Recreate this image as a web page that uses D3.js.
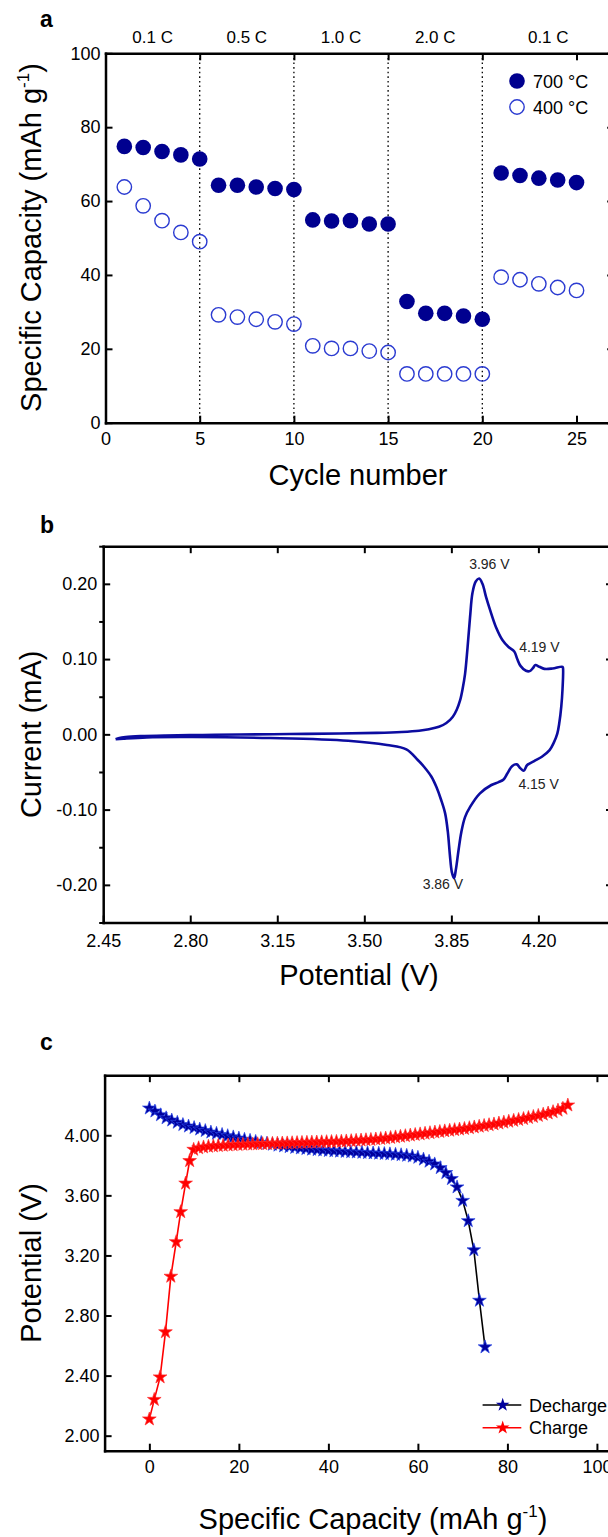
<!DOCTYPE html>
<html>
<head>
<meta charset="utf-8">
<script src="https://cdn.jsdelivr.net/npm/d3@7"></script>
<style>
body { margin: 0; background: #fff; }
text { font-family: "Liberation Sans", Arial, Helvetica, sans-serif; fill: #000; }
</style>
</head>
<body>
<div id="canvas"></div>
<script>
var w = 608;
var h = 1537;

// ---- a: rate capability ----
var cycles = [1,2,3,4,5,6,7,8,9,10,11,12,13,14,15,16,17,18,19,20,21,22,23,24,25];
var cap700 = [74.8,74.5,73.4,72.5,71.4, 64.3,64.3,63.8,63.4,63.1, 54.9,54.6,54.7,53.8,53.8, 32.8,29.6,29.6,28.9,28.0, 67.6,66.9,66.2,65.7,65.0];
var cap400 = [63.8,58.7,54.7,51.5,49.0, 29.2,28.6,28.0,27.3,26.7, 20.8,20.1,20.1,19.4,19.0, 13.2,13.2,13.2,13.2,13.2, 39.4,38.7,37.6,36.6,35.8];
var rates = ["0.1 C","0.5 C","1.0 C","2.0 C","0.1 C"];
var rateEdges = [0,5,10,15,20,27];
var cycleTicks = [0,5,10,15,20,25];
var capTicks = [0,20,40,60,80,100];

// ---- b: cyclic voltammogram [V, mA] ----
var cvAnodic = [
  [2.500,-0.0066],[2.515,-0.0048],[2.540,-0.0036],[2.600,-0.0024],[2.700,-0.0015],
  [2.850,-0.0008],[3.000,-0.0002],[3.200,0.0004],[3.400,0.0011],[3.550,0.0020],
  [3.650,0.0032],[3.720,0.0048],[3.760,0.0068],[3.800,0.0100],[3.830,0.0150],
  [3.856,0.0234],[3.872,0.0330],[3.885,0.0450],[3.895,0.0600],[3.905,0.0800],
  [3.915,0.1150],[3.925,0.1550],[3.935,0.1880],[3.948,0.2030],[3.962,0.2070],
  [3.975,0.2000],[3.990,0.1820],[4.005,0.1660],[4.030,0.1420],[4.056,0.1250],
  [4.080,0.1160],[4.103,0.1100],[4.115,0.1000],[4.128,0.0910],[4.150,0.0845],
  [4.165,0.0840],[4.178,0.0880],[4.188,0.0920],[4.204,0.0898],[4.224,0.0870],
  [4.257,0.0875],[4.297,0.0898]
];
var cvCathodic = [
  [4.299,0.0880],[4.297,0.0600],[4.292,0.0370],[4.284,0.0150],[4.276,0.0010],
  [4.262,-0.0110],[4.245,-0.0209],[4.214,-0.0297],[4.183,-0.0355],[4.155,-0.0408],
  [4.141,-0.0483],[4.128,-0.0452],[4.113,-0.0399],[4.095,-0.0420],[4.075,-0.0520],
  [4.060,-0.0600],[4.040,-0.0635],[4.011,-0.0673],[3.965,-0.0784],[3.926,-0.0961],
  [3.905,-0.1100],[3.890,-0.1300],[3.879,-0.1537],[3.868,-0.1800],[3.861,-0.1910],
  [3.852,-0.1830],[3.844,-0.1600],[3.836,-0.1300],[3.825,-0.1050],[3.809,-0.0872],
  [3.790,-0.0700],[3.770,-0.0563],[3.740,-0.0430],[3.715,-0.0341],[3.669,-0.0200],
  [3.591,-0.0142],[3.435,-0.0085],[3.123,-0.0049],[2.811,-0.0036],[2.625,-0.0040],
  [2.531,-0.0058],[2.500,-0.0066]
];
var cvPeaks = [
  {label:"3.96 V", v:4.003, i:0.220},
  {label:"4.19 V", v:4.204, i:0.110},
  {label:"4.15 V", v:4.201, i:-0.072},
  {label:"3.86 V", v:3.816, i:-0.206}
];
var potTicks = [2.45,2.80,3.15,3.50,3.85,4.20];
var curTicks = [-0.20,-0.10,0.00,0.10,0.20];
var curMinor = [-0.25,-0.15,-0.05,0.05,0.15,0.25];

// ---- c: charge / discharge profiles [mAh/g, V] ----
var decharge = [
  [0,4.18],[1.25,4.16],[2.5,4.135],[3.75,4.115],[5,4.10],[6.25,4.085],[7.5,4.07],[8.75,4.06],
  [10,4.05],[11.25,4.04],[12.5,4.03],[13.75,4.02],[15,4.012],[16.25,4.004],[17.5,3.996],
  [18.75,3.988],[20,3.98],[21.25,3.972],[22.5,3.965],[23.75,3.958],[25,3.951],[26.25,3.945],
  [27.5,3.939],[28.75,3.933],[30,3.928],[31.25,3.923],[32.5,3.918],[33.75,3.914],[35,3.910],
  [36.25,3.906],[37.5,3.903],[38.75,3.900],[40,3.897],[41.25,3.895],[42.5,3.893],[43.75,3.891],
  [45,3.889],[46.25,3.887],[47.5,3.885],[48.75,3.883],[50,3.881],[51.25,3.879],[52.5,3.877],
  [53.75,3.875],[55,3.872],[56.25,3.869],[57.5,3.865],[58.75,3.86],[60,3.852],[61.25,3.84],
  [62.5,3.826],[63.75,3.808],[65,3.783],[66.25,3.75],[67.5,3.71],[68.75,3.655],[70,3.565],
  [71.25,3.43],[72.5,3.236],[73.75,2.90],[75,2.59]
];
var charge = [
  [0,2.11],[1.1,2.24],[2.4,2.39],[3.6,2.69],[4.8,3.06],[6.0,3.29],[7.0,3.49],[8.1,3.68],
  [9.0,3.83],[9.9,3.905],[11.0,3.915],[12.1,3.921],[13.2,3.925],[14.3,3.928],[15.4,3.930],
  [16.5,3.932],[17.6,3.934],[18.7,3.936],[19.8,3.937],[20.9,3.939],[22.0,3.940],[23.1,3.941],
  [24.2,3.942],[25.3,3.943],[26.4,3.944],[27.5,3.945],[28.6,3.946],[29.7,3.947],[30.8,3.948],
  [31.9,3.949],[33.0,3.950],[34.1,3.951],[35.2,3.952],[36.3,3.953],[37.4,3.954],[38.5,3.955],
  [39.6,3.956],[40.7,3.957],[41.8,3.958],[42.9,3.959],[44.0,3.961],[45.1,3.963],[46.2,3.965],
  [47.3,3.967],[48.4,3.969],[49.5,3.971],[50.6,3.974],[51.7,3.977],[52.8,3.980],[53.9,3.984],
  [55.0,3.988],[56.1,3.992],[57.2,3.996],[58.3,4.000],[59.4,4.004],[60.5,4.008],[61.6,4.012],
  [62.7,4.016],[63.8,4.020],[64.9,4.024],[66.0,4.028],[67.1,4.032],[68.2,4.036],[69.3,4.040],
  [70.4,4.044],[71.5,4.049],[72.6,4.054],[73.7,4.059],[74.8,4.064],[75.9,4.069],[77.0,4.074],
  [78.1,4.080],[79.2,4.086],[80.3,4.092],[81.4,4.098],[82.5,4.104],[83.6,4.110],[84.7,4.117],
  [85.8,4.124],[86.9,4.131],[88.0,4.139],[89.1,4.147],[90.2,4.156],[91.3,4.166],[92.4,4.178],
  [93.5,4.200]
];
var specTicks = [0,20,40,60,80,100];
var potCTicks = [2.00,2.40,2.80,3.20,3.60,4.00];
var legendC = ["Decharge","Charge"];

var navy = "#00008f";
var openBlue = "#2b3bd1";
var cvBlue = "#0c0ca0";

var svg = d3.select("#canvas").append("svg")
  .attr("width", w)
  .attr("height", h)
  .style("background-color", "white");

function styleAxis(g, size) {
  g.select(".domain").attr("stroke", "#000").attr("stroke-width", 2.5).attr("stroke-linecap", "square");
  g.selectAll(".tick line").attr("stroke", "#000").attr("stroke-width", 2);
  g.selectAll(".tick text").style("font-size", size + "px").attr("fill", "#000")
    .style("font-family", '"Liberation Sans", Arial, sans-serif');
}

// draws 4-sided frame with inward ticks
function frame(x, y, xt, yt, xfmt, yfmt, xpad, ypad) {
  var x0 = x.range()[0], x1 = x.range()[1], y0 = y.range()[0], y1 = y.range()[1];
  var gb = svg.append("g").attr("transform", "translate(0," + y0 + ")")
    .call(d3.axisBottom(x).tickValues(xt).tickSizeInner(-7).tickSizeOuter(0).tickPadding(xpad).tickFormat(xfmt));
  styleAxis(gb, 18);
  var gt = svg.append("g").attr("transform", "translate(0," + y1 + ")")
    .call(d3.axisTop(x).tickValues(xt.filter(function(d){ return x(d) > x0 + 3; })).tickSizeInner(-7).tickSizeOuter(0).tickFormat(""));
  styleAxis(gt, 18);
  var gl = svg.append("g").attr("transform", "translate(" + x0 + ",0)")
    .call(d3.axisLeft(y).tickValues(yt).tickSizeInner(-7).tickSizeOuter(0).tickPadding(ypad).tickFormat(yfmt));
  styleAxis(gl, 18);
  var gr = svg.append("g").attr("transform", "translate(" + x1 + ",0)")
    .call(d3.axisRight(y).tickValues(yt).tickSizeInner(-7).tickSizeOuter(0).tickFormat(""));
  styleAxis(gr, 18);
}

function panelLetter(t, x, y) {
  svg.append("text").attr("x", x).attr("y", y).text(t)
    .style("font-size", "23px").style("font-weight", "bold");
}

function yTitle(cx, cy, main, sup, tail) {
  var t = svg.append("text")
    .attr("transform", "translate(" + cx + "," + cy + ") rotate(-90)")
    .attr("text-anchor", "middle")
    .style("font-size", "29px");
  t.append("tspan").text(main);
  if (sup) {
    t.append("tspan").text(sup).style("font-size", "17px").attr("dy", -12);
    t.append("tspan").text(tail).attr("dy", 12);
  }
}

function xTitle(cx, y, main, sup, tail) {
  var t = svg.append("text")
    .attr("x", cx).attr("y", y)
    .attr("text-anchor", "middle")
    .style("font-size", "29px");
  t.append("tspan").text(main);
  if (sup) {
    t.append("tspan").text(sup).style("font-size", "17px").attr("dy", -12);
    t.append("tspan").text(tail).attr("dy", 12);
  }
}

// ================= panel a =================
var xA = d3.scaleLinear().domain([0, 27]).range([105.5, 614.2]);
var yA = d3.scaleLinear().domain([0, 100]).range([422.7, 53.3]);

svg.selectAll(".sep")
  .data(rateEdges.slice(1, 5))
  .join("line")
  .attr("class", "sep")
  .attr("x1", function(d){ return xA(d); })
  .attr("x2", function(d){ return xA(d); })
  .attr("y1", yA(100))
  .attr("y2", yA(0))
  .attr("stroke", "#000")
  .attr("stroke-width", 1.3)
  .attr("stroke-dasharray", "1.6,3");

frame(xA, yA, cycleTicks, capTicks, d3.format("d"), d3.format("d"), 10, 5);

svg.selectAll(".rate")
  .data(rates)
  .join("text")
  .attr("class", "rate")
  .attr("x", function(d, i){ return xA((rateEdges[i] + rateEdges[i+1]) / 2); })
  .attr("y", 42.5)
  .attr("text-anchor", "middle")
  .style("font-size", "17px")
  .text(function(d){ return d; });

svg.selectAll(".c400")
  .data(cap400)
  .join("circle")
  .attr("class", "c400")
  .attr("cx", function(d, i){ return xA(cycles[i]); })
  .attr("cy", function(d){ return yA(d); })
  .attr("r", 7.2)
  .attr("fill", "none")
  .attr("stroke", openBlue)
  .attr("stroke-width", 1.4);

svg.selectAll(".c700")
  .data(cap700)
  .join("circle")
  .attr("class", "c700")
  .attr("cx", function(d, i){ return xA(cycles[i]); })
  .attr("cy", function(d){ return yA(d); })
  .attr("r", 7.8)
  .attr("fill", navy);

svg.append("circle").attr("cx", 517).attr("cy", 81).attr("r", 7.8).attr("fill", navy);
svg.append("circle").attr("cx", 517).attr("cy", 107).attr("r", 7.2).attr("fill", "none")
  .attr("stroke", openBlue).attr("stroke-width", 1.4);
svg.append("text").attr("x", 533).attr("y", 87.5).style("font-size", "18px").text("700 °C");
svg.append("text").attr("x", 533).attr("y", 113.5).style("font-size", "18px").text("400 °C");

panelLetter("a", 40, 27);
yTitle(41, 237.5, "Specific Capacity (mAh g", "-1", ")");
xTitle(358, 485, "Cycle number");

// ================= panel b =================
var xB = d3.scaleLinear().domain([2.45, 4.50]).range([103.2, 613]);
var yB = d3.scaleLinear().domain([-0.25, 0.25]).range([922.5, 546.2]);

var minorB = svg.append("g").attr("transform", "translate(" + xB(2.45) + ",0)")
  .call(d3.axisLeft(yB).tickValues(curMinor).tickSizeInner(4).tickSizeOuter(0).tickFormat(""));
minorB.select(".domain").remove();
minorB.selectAll(".tick line").attr("stroke", "#000").attr("stroke-width", 2);

frame(xB, yB, potTicks, curTicks,
  function(d){ return d.toFixed(2); },
  function(d){ return d.toFixed(2); }, 12, 6);

var cvLine = d3.line()
  .x(function(d){ return xB(d[0]); })
  .y(function(d){ return yB(d[1]); })
  .curve(d3.curveCatmullRom.alpha(0.5));

svg.append("path")
  .attr("d", cvLine(cvAnodic.concat(cvCathodic)))
  .attr("fill", "none")
  .attr("stroke", cvBlue)
  .attr("stroke-width", 2.6)
  .attr("stroke-linejoin", "round");

svg.selectAll(".peak")
  .data(cvPeaks)
  .join("text")
  .attr("class", "peak")
  .attr("x", function(d){ return xB(d.v); })
  .attr("y", function(d){ return yB(d.i); })
  .attr("text-anchor", "middle")
  .style("font-size", "14px")
  .style("fill", "#222")
  .text(function(d){ return d.label; });

panelLetter("b", 40, 533);
yTitle(41, 734.3, "Current (mA)");
xTitle(359, 985, "Potential (V)");

// ================= panel c =================
var xC = d3.scaleLinear().domain([-10, 105]).range([104.6, 619.3]);
var yC = d3.scaleLinear().domain([1.9, 4.4]).range([1450.7, 1075.2]);

frame(xC, yC, specTicks, potCTicks, d3.format("d"),
  function(d){ return d.toFixed(2); }, 10, 5);

var pLine = d3.line()
  .x(function(d){ return xC(d[0]); })
  .y(function(d){ return yC(d[1]); });

var star = d3.symbol().type(d3.symbolStar).size(58);

svg.append("path").attr("d", pLine(decharge)).attr("fill", "none")
  .attr("stroke", "#000").attr("stroke-width", 1.6);
svg.selectAll(".sd")
  .data(decharge)
  .join("path")
  .attr("class", "sd")
  .attr("transform", function(d){ return "translate(" + xC(d[0]) + "," + yC(d[1]) + ")"; })
  .attr("d", star)
  .attr("fill", "#00009c")
  .attr("stroke", "#2a48e8")
  .attr("stroke-width", 0.7);

svg.append("path").attr("d", pLine(charge)).attr("fill", "none")
  .attr("stroke", "#ff0000").attr("stroke-width", 1.6);
svg.selectAll(".sc")
  .data(charge)
  .join("path")
  .attr("class", "sc")
  .attr("transform", function(d){ return "translate(" + xC(d[0]) + "," + yC(d[1]) + ")"; })
  .attr("d", star)
  .attr("fill", "#ff0000")
  .attr("stroke", "#ff3030")
  .attr("stroke-width", 0.7);

var legCol = [["#000", "#00009c"], ["#ff0000", "#ff0000"]];
var leg = svg.selectAll(".legc")
  .data(legendC)
  .join("g")
  .attr("class", "legc")
  .attr("transform", function(d, i){ return "translate(0," + (1405 + i * 22.7) + ")"; });
leg.append("line").attr("x1", 482.6).attr("x2", 521.3).attr("y1", 0).attr("y2", 0)
  .attr("stroke", function(d, i){ return legCol[i][0]; }).attr("stroke-width", 1.6);
leg.append("path").attr("transform", "translate(502.7,0)").attr("d", star)
  .attr("fill", function(d, i){ return legCol[i][1]; });
leg.append("text").attr("x", 529).attr("y", 6.5).style("font-size", "18px")
  .text(function(d){ return d; });

panelLetter("c", 40, 1050);
yTitle(41, 1263, "Potential (V)");
xTitle(373, 1529, "Specific Capacity (mAh g", "-1", ")");
</script>
</body>
</html>
